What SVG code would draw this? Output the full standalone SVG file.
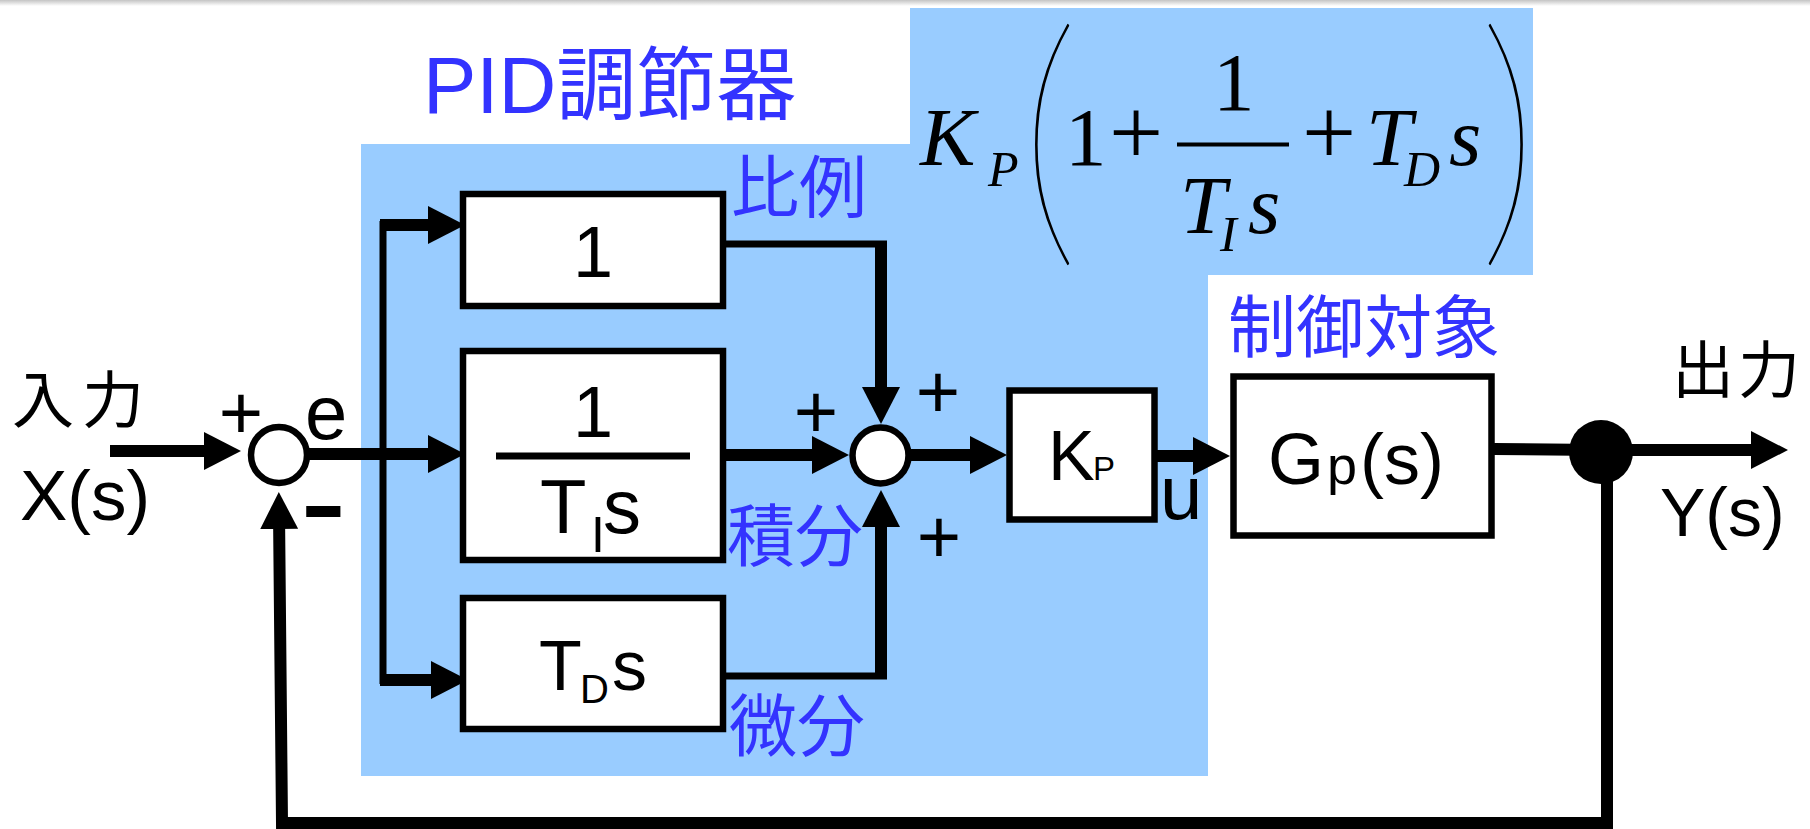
<svg xmlns="http://www.w3.org/2000/svg" width="1810" height="829" viewBox="0 0 1810 829">
<style>
.sans{font-family:"Liberation Sans",Arial,"Noto Sans CJK JP",sans-serif;fill:#000}
.cjk{font-family:"Liberation Sans","Noto Sans CJK JP",sans-serif}
.blue{fill:#3333ff}
.math{font-family:"Liberation Serif","Times New Roman",serif;fill:#000}
.paren{font-family:Lato,"Liberation Sans",sans-serif;font-weight:200;fill:#000}
.it{font-style:italic}
.box{fill:#fff;stroke:#000;stroke-width:6.5}
.thick{stroke:#000;stroke-width:12;fill:none}
.thin{stroke:#000;stroke-width:7;fill:none}
.arr{marker-end:url(#ah)}
</style>
<defs>
<linearGradient id="topg" x1="0" y1="0" x2="0" y2="1">
<stop offset="0" stop-color="#c4c4c4"/><stop offset="1" stop-color="#ffffff"/>
</linearGradient>
<marker id="ah" markerUnits="userSpaceOnUse" markerWidth="38" markerHeight="38" refX="17" refY="19" orient="auto">
<path d="M0,0 L37,19 L0,38 Z" fill="#000"/>
</marker>
</defs>
<rect x="0" y="0" width="1810" height="829" fill="#fff"/>
<rect x="0" y="0" width="1810" height="6" fill="url(#topg)"/>
<g id="pid-region">
<path d="M361,144 H910 V8 H1533 V275 H1208 V776 H361 Z" fill="#99ccff"/>
</g>
<g id="formula" class="math">
<text x="920" y="165" font-size="83" class="it">K</text>
<text x="988" y="186" font-size="50" class="it">P</text>
<text class="paren" x="0" y="0" font-size="140" transform="translate(1020,232) scale(1.68,1.978)">(</text>
<text x="1065" y="165" font-size="83">1</text>
<text x="1136" y="164" font-size="96" text-anchor="middle">+</text>
<rect x="1177" y="142.5" width="112" height="4" fill="#000"/>
<text x="1213" y="110" font-size="83">1</text>
<text x="1180" y="233" font-size="83" class="it">T</text>
<text x="1220" y="251" font-size="50" class="it">I</text>
<text x="1248" y="233" font-size="83" class="it">s</text>
<text x="1329" y="164" font-size="96" text-anchor="middle">+</text>
<text x="1366" y="165" font-size="83" class="it">T</text>
<text x="1404" y="186" font-size="50" class="it">D</text>
<text x="1449" y="165" font-size="83" class="it">s</text>
<text class="paren" x="0" y="0" font-size="140" transform="translate(1479,232) scale(1.68,1.978)">)</text>
</g>
<g id="titles" class="cjk blue">
<text x="423" y="113" font-size="80">PID調節器</text>
<text x="731" y="212" font-size="68">比例</text>
<text x="727" y="561" font-size="68">積分</text>
<text x="729" y="751" font-size="68">微分</text>
<text x="1228" y="352" font-size="68">制御対象</text>
</g>
<g id="connectors">
<path class="thick arr" d="M110,451 H221"/>
<path class="thick arr" d="M307,454 H445"/>
<path class="thin" stroke-width="7.5" d="M383,221 V684"/>
<path class="thick arr" d="M380,225 H445"/>
<path class="thick arr" d="M380,680 H448"/>
<path class="thin" d="M723,244 H887"/>
<path class="thick arr" d="M881,241 V404"/>
<path class="thick arr" d="M723,455 H829"/>
<path class="thin" d="M723,676 H887"/>
<path class="thick arr" d="M881,679 V510"/>
<path class="thick arr" d="M909,455 H987"/>
<path class="thick arr" d="M1157,456 H1210"/>
<path class="thick" stroke-width="13" d="M1494,449 L1601,450"/>
<path class="thick arr" d="M1601,450 H1768"/>
<path class="thick arr" stroke-width="11" stroke-linejoin="miter" d="M1607,452 V823 H282 L279,512"/>
</g>
<g id="sum1">
<circle cx="279" cy="455" r="28" fill="#fff" stroke="#000" stroke-width="6.5"/>
<text class="sans" x="241" y="439" font-size="76" text-anchor="middle">+</text>
<text class="sans" x="305" y="439" font-size="76">e</text>
<text class="sans" x="300" y="549" font-size="140">-</text>
</g>
<g id="sum2">
<circle cx="880.5" cy="455.5" r="28" fill="#fff" stroke="#000" stroke-width="6.5"/>
<text class="sans" x="816" y="438" font-size="76" text-anchor="middle">+</text>
<text class="sans" x="938" y="418" font-size="76" text-anchor="middle">+</text>
<text class="sans" x="939" y="563" font-size="76" text-anchor="middle">+</text>
</g>
<g id="boxP">
<rect class="box" x="463" y="194" width="260" height="112"/>
<text class="sans" x="593" y="277" font-size="72" text-anchor="middle">1</text>
</g>
<g id="boxI">
<rect class="box" x="463" y="351" width="260" height="209"/>
<text class="sans" x="593" y="437" font-size="72" text-anchor="middle">1</text>
<rect x="496" y="452.5" width="194" height="7" fill="#000"/>
<text class="sans" x="540" y="533" font-size="76">T</text>
<text class="sans" x="591" y="552" font-size="50">I</text>
<text class="sans" x="603" y="533" font-size="76">s</text>
</g>
<g id="boxD">
<rect class="box" x="463" y="598" width="260" height="131"/>
<text class="sans" x="539" y="690" font-size="70">T</text>
<text class="sans" x="580" y="703" font-size="40">D</text>
<text class="sans" x="612" y="690" font-size="70">s</text>
</g>
<g id="boxKp">
<rect class="box" stroke-width="7" x="1009.5" y="390.5" width="145" height="129"/>
<text class="sans" x="1048" y="480" font-size="70">K</text>
<text class="sans" x="1093" y="480" font-size="33">P</text>
<text class="sans" x="1160" y="519" font-size="76">u</text>
</g>
<g id="boxGp">
<rect class="box" stroke-width="7" x="1233.5" y="376.5" width="258" height="159"/>
<text class="sans" x="1268" y="484" font-size="72">G</text>
<text class="sans" x="1327" y="484" font-size="54">p</text>
<text class="sans" x="1360" y="484" font-size="72">(s)</text>
</g>
<g id="nodeOut">
<circle cx="1601" cy="452" r="32" fill="#000"/>
</g>
<g id="input">
<text class="sans" x="12" y="423" font-size="62" letter-spacing="8">入力</text>
<text class="sans" x="20" y="520" font-size="71">X(s)</text>
</g>
<g id="output">
<text class="sans" x="1672" y="393" font-size="62" letter-spacing="4">出力</text>
<text class="sans" x="1660" y="536" font-size="68">Y(s)</text>
</g>
</svg>
